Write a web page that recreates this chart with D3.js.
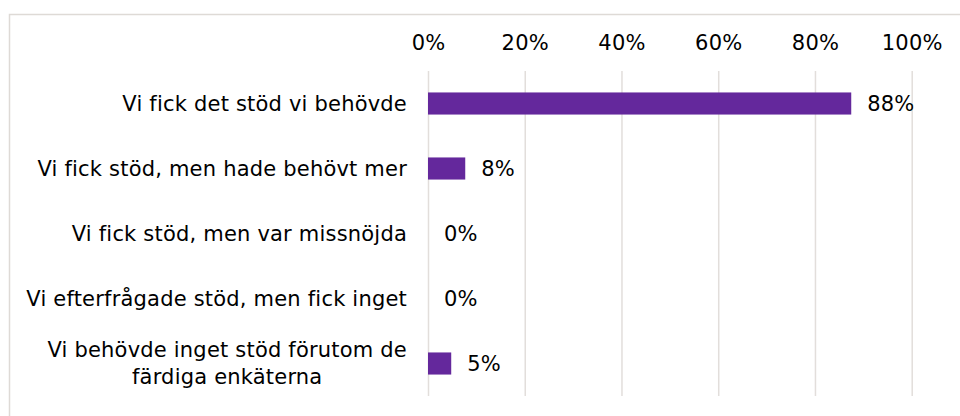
<!DOCTYPE html>
<html>
<head>
<meta charset="utf-8">
<script src="https://cdn.jsdelivr.net/npm/d3@7"></script>
<style>
  body { margin: 0; background: #fff; }
  svg { display: block; font-family: 'DejaVu Sans', Verdana, sans-serif; }
  .tick text, .value-label, .cat-label { fill: #000; font-size: 21px; letter-spacing: 0.2px; }
  .grid .tick line { stroke: #e2dedb; stroke-width: 1.5; }
  .bar { fill: #64289c; }
</style>
</head>
<body>
<div id="chart"></div>
<script>
const categories = [
  'Vi fick det stöd vi behövde',
  'Vi fick stöd, men hade behövt mer',
  'Vi fick stöd, men var missnöjda',
  'Vi efterfrågade stöd, men fick inget',
  'Vi behövde inget stöd förutom de\nfärdiga enkäterna'
]
const values = [0.875, 0.077, 0, 0, 0.048]
const ticks = [0, 0.2, 0.4, 0.6, 0.8, 1]

const width = 960
const height = 416
const plot = { left: 428, right: 911.7, top: 71, bottom: 396 }

const svg = d3.select('#chart')
  .append('svg')
    .attr('width', width)
    .attr('height', height)

// frame (only left and top edges are visible)
svg.append('path')
  .attr('d', `M9.5 ${height}V14.5H${width}`)
  .attr('fill', 'none')
  .attr('stroke', '#dedad6')
  .attr('stroke-width', 1.5)

const xScale = d3.scaleLinear()
  .domain([0, 1])
  .range([plot.left, plot.right])

const yScale = d3.scaleBand()
  .domain(categories)
  .range([plot.top, plot.bottom])
  .padding(0)

// X-AXIS + GRID
const xAxis = d3.axisTop(xScale)
  .tickValues(ticks)
  .tickFormat(d3.format('.0%'))
  .tickSizeInner(-(plot.bottom - plot.top))
  .tickSizeOuter(0)
  .tickPadding(21)

svg.append('g')
  .attr('class', 'grid')
  .attr('transform', `translate(0 ${plot.top})`)
  .call(xAxis)
  .attr('font-family', null)
  .attr('font-size', null)
  .call(g => g.select('.domain').remove())

// BARS
const barH = yScale.bandwidth() * 0.34
svg.append('g')
  .selectAll('.bar')
  .data(values)
  .enter().append('rect')
  .attr('class', 'bar')
  .attr('x', xScale(0))
  .attr('y', (d, i) => yScale(categories[i]) + (yScale.bandwidth() - barH) / 2)
  .attr('width', d => xScale(d) - xScale(0))
  .attr('height', barH)

// VALUE LABELS
svg.append('g')
  .selectAll('.value-label')
  .data(values)
  .enter().append('text')
  .attr('class', 'value-label')
  .attr('x', d => xScale(d) + 16)
  .attr('y', (d, i) => yScale(categories[i]) + yScale.bandwidth() / 2)
  .attr('dy', '0.35em')
  .text(d => d3.format('.0%')(d))

// CATEGORY LABELS
const catG = svg.append('g')
categories.forEach(c => {
  const lines = c.split('\n')
  const cy = yScale(c) + yScale.bandwidth() / 2
  const text = catG.append('text')
    .attr('class', 'cat-label')
    .attr('text-anchor', 'end')
    .attr('x', plot.left - 21)
    .attr('y', cy - (lines.length - 1) * 13.5)
    .attr('dy', '0.35em')
  if (lines.length === 1) {
    text.text(c)
  } else {
    text.text(lines[0])
    const w = text.node().getComputedTextLength()
    const mid = plot.left - 21 - w / 2
    catG.append('text')
      .attr('class', 'cat-label')
      .attr('text-anchor', 'middle')
      .attr('x', mid)
      .attr('y', cy + 13.5)
      .attr('dy', '0.35em')
      .text(lines[1])
  }
})
</script>
</body>
</html>
